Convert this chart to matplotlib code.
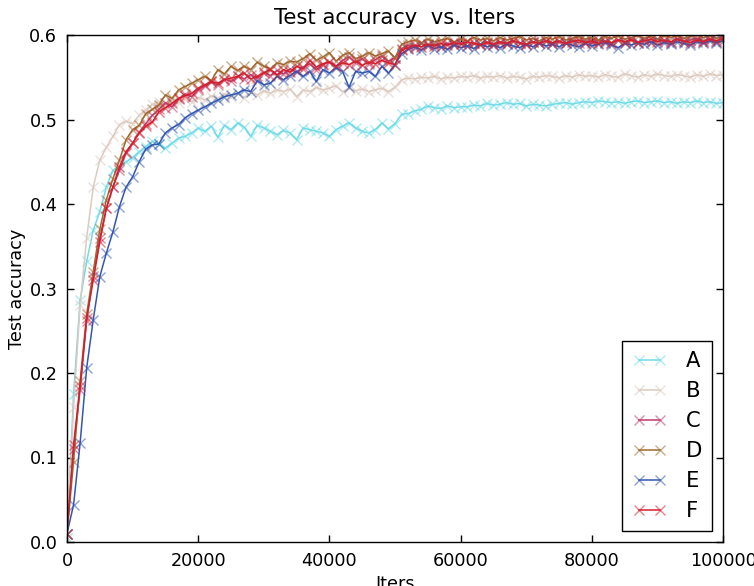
import numpy as np
import matplotlib
matplotlib.use('Agg')
import matplotlib.pyplot as plt
from matplotlib.colors import to_rgba

# test accuracy logged every 1000 iterations
iters = np.arange(0, 100001, 1000)

acc_a = [0.005, 0.175, 0.286, 0.332, 0.369, 0.391, 0.420, 0.440, 0.444, 0.450,
         0.455, 0.462, 0.468, 0.474, 0.471, 0.466, 0.472, 0.478, 0.480, 0.484,
         0.490, 0.486, 0.492, 0.479, 0.493, 0.488, 0.496, 0.491, 0.480, 0.493,
         0.490, 0.486, 0.482, 0.487, 0.484, 0.476, 0.490, 0.488, 0.486, 0.484,
         0.480, 0.488, 0.492, 0.496, 0.490, 0.486, 0.484, 0.488, 0.496, 0.489,
         0.495, 0.506, 0.507, 0.510, 0.512, 0.516, 0.514, 0.513, 0.516, 0.514,
         0.515, 0.515, 0.517, 0.516, 0.519, 0.517, 0.518, 0.520, 0.518, 0.519,
         0.516, 0.518, 0.517, 0.516, 0.518, 0.519, 0.520, 0.518, 0.520, 0.521,
         0.520, 0.522, 0.521, 0.520, 0.521, 0.519, 0.521, 0.522, 0.520, 0.521,
         0.522, 0.520, 0.521, 0.519, 0.521, 0.520, 0.522, 0.520, 0.521, 0.519,
         0.520]

acc_b = [0.005, 0.160, 0.280, 0.360, 0.420, 0.452, 0.467, 0.480, 0.494, 0.498,
         0.495, 0.505, 0.511, 0.518, 0.521, 0.517, 0.522, 0.520, 0.524, 0.521,
         0.526, 0.523, 0.528, 0.525, 0.530, 0.527, 0.531, 0.526, 0.532, 0.529,
         0.534, 0.531, 0.535, 0.533, 0.536, 0.527, 0.535, 0.533, 0.538, 0.535,
         0.537, 0.540, 0.533, 0.537, 0.534, 0.536, 0.533, 0.535, 0.537, 0.533,
         0.538, 0.547, 0.549, 0.548, 0.550, 0.549, 0.551, 0.548, 0.550, 0.549,
         0.551, 0.550, 0.552, 0.549, 0.551, 0.550, 0.552, 0.549, 0.551, 0.550,
         0.548, 0.551, 0.550, 0.552, 0.551, 0.549, 0.552, 0.550, 0.553, 0.551,
         0.552, 0.550, 0.553, 0.551, 0.550, 0.554, 0.552, 0.550, 0.553, 0.551,
         0.554, 0.552, 0.551, 0.553, 0.552, 0.550, 0.553, 0.551, 0.554, 0.552,
         0.553]

acc_c = [0.010, 0.110, 0.180, 0.262, 0.315, 0.360, 0.395, 0.420, 0.440, 0.460,
         0.472, 0.485, 0.495, 0.505, 0.512, 0.520, 0.515, 0.524, 0.530, 0.527,
         0.535, 0.540, 0.544, 0.541, 0.548, 0.545, 0.551, 0.548, 0.553, 0.549,
         0.556, 0.552, 0.558, 0.554, 0.560, 0.556, 0.562, 0.566, 0.559, 0.565,
         0.568, 0.563, 0.570, 0.574, 0.567, 0.572, 0.566, 0.571, 0.575, 0.569,
         0.573, 0.584, 0.588, 0.585, 0.590, 0.587, 0.589, 0.586, 0.590, 0.588,
         0.591, 0.587, 0.590, 0.589, 0.592, 0.588, 0.591, 0.589, 0.593, 0.590,
         0.588, 0.592, 0.590, 0.593, 0.589, 0.592, 0.590, 0.594, 0.591, 0.593,
         0.590, 0.594, 0.592, 0.590, 0.594, 0.591, 0.595, 0.592, 0.594, 0.591,
         0.595, 0.593, 0.591, 0.595, 0.592, 0.594, 0.596, 0.593, 0.595, 0.592,
         0.596]

acc_d = [0.010, 0.095, 0.190, 0.270, 0.320, 0.370, 0.405, 0.430, 0.452, 0.476,
         0.488, 0.493, 0.507, 0.512, 0.517, 0.529, 0.525, 0.535, 0.539, 0.543,
         0.547, 0.551, 0.546, 0.559, 0.554, 0.563, 0.558, 0.563, 0.559, 0.568,
         0.563, 0.560, 0.567, 0.565, 0.569, 0.568, 0.572, 0.578, 0.570, 0.574,
         0.579, 0.569, 0.576, 0.579, 0.572, 0.575, 0.579, 0.575, 0.578, 0.581,
         0.573, 0.589, 0.592, 0.594, 0.591, 0.595, 0.592, 0.594, 0.596, 0.592,
         0.595, 0.593, 0.597, 0.594, 0.596, 0.593, 0.597, 0.594, 0.596, 0.598,
         0.594, 0.596, 0.593, 0.597, 0.595, 0.598, 0.594, 0.596, 0.598, 0.595,
         0.597, 0.594, 0.598, 0.596, 0.599, 0.595, 0.597, 0.599, 0.596, 0.598,
         0.595, 0.599, 0.597, 0.599, 0.596, 0.598, 0.600, 0.597, 0.599, 0.596,
         0.598]

acc_e = [0.010, 0.044, 0.117, 0.206, 0.263, 0.314, 0.342, 0.367, 0.397, 0.420,
         0.432, 0.450, 0.465, 0.470, 0.471, 0.484, 0.490, 0.494, 0.502, 0.507,
         0.511, 0.515, 0.519, 0.523, 0.527, 0.529, 0.531, 0.535, 0.533, 0.546,
         0.541, 0.543, 0.551, 0.547, 0.552, 0.557, 0.551, 0.557, 0.545, 0.559,
         0.555, 0.561, 0.557, 0.538, 0.557, 0.555, 0.557, 0.551, 0.563, 0.555,
         0.565, 0.578, 0.583, 0.586, 0.582, 0.588, 0.584, 0.586, 0.583, 0.588,
         0.585, 0.587, 0.584, 0.589, 0.586, 0.588, 0.585, 0.589, 0.587, 0.585,
         0.589, 0.586, 0.590, 0.587, 0.589, 0.586, 0.590, 0.588, 0.586, 0.590,
         0.587, 0.589, 0.591, 0.588, 0.585, 0.590, 0.588, 0.591, 0.589, 0.592,
         0.588, 0.591, 0.589, 0.592, 0.590, 0.588, 0.592, 0.590, 0.593, 0.591,
         0.593]

acc_f = [0.010, 0.115, 0.185, 0.265, 0.310, 0.355, 0.395, 0.420, 0.444, 0.462,
         0.472, 0.484, 0.492, 0.497, 0.509, 0.514, 0.519, 0.525, 0.528, 0.531,
         0.537, 0.541, 0.545, 0.543, 0.547, 0.549, 0.551, 0.555, 0.548, 0.551,
         0.555, 0.559, 0.553, 0.559, 0.556, 0.563, 0.560, 0.570, 0.562, 0.566,
         0.568, 0.563, 0.567, 0.565, 0.569, 0.564, 0.568, 0.566, 0.570, 0.567,
         0.565, 0.582, 0.585, 0.588, 0.586, 0.589, 0.587, 0.590, 0.588, 0.591,
         0.589, 0.592, 0.590, 0.588, 0.591, 0.589, 0.592, 0.590, 0.593, 0.591,
         0.589, 0.592, 0.590, 0.593, 0.591, 0.593, 0.590, 0.592, 0.594, 0.591,
         0.593, 0.590, 0.593, 0.591, 0.594, 0.592, 0.594, 0.591, 0.593, 0.595,
         0.592, 0.594, 0.592, 0.595, 0.593, 0.591, 0.594, 0.592, 0.595, 0.593,
         0.596]

labels = ['A', 'B', 'C', 'D', 'E', 'F']
series = [acc_a, acc_b, acc_c, acc_d, acc_e, acc_f]
colors = ['#6fdbe8', '#dccabf', '#c03a68', '#a0682e', '#3157b0', '#d41e2e']

fig = plt.figure(figsize=(7.54, 5.86), dpi=100)
ax = fig.add_axes([67 / 754, 44 / 586, 656 / 754, 507 / 586])

for lab, ys, c in zip(labels, series, colors):
    ax.plot(iters, ys, color=c, linewidth=1.1, marker='x', markersize=7,
            markeredgewidth=1.0, markeredgecolor=to_rgba(c, 0.55), label=lab)

ax.set_xlim(0, 100000)
ax.set_ylim(0.0, 0.6)
ax.set_xticks(np.arange(0, 100001, 20000))
ax.set_yticks(np.arange(0, 0.61, 0.1))
ax.set_yticklabels([f'{v:.1f}' for v in np.arange(0, 0.61, 0.1)])
ax.tick_params(direction='in', top=True, right=True, length=5, width=1,
               labelsize=12.7, pad=7)
for sp in ax.spines.values():
    sp.set_linewidth(1.0)

ax.set_title('Test accuracy  vs. Iters', fontsize=15.2, pad=8)
ax.set_xlabel('Iters', fontsize=12.7)
ax.set_ylabel('Test accuracy', fontsize=12.7, labelpad=2)

leg = ax.legend(loc='lower right', numpoints=2, fontsize=15.2, fancybox=False,
                framealpha=1, edgecolor='black', handlelength=1.6,
                labelspacing=0.47, borderpad=0.5, handletextpad=0.9)
leg.get_frame().set_linewidth(1.0)

plt.savefig('out.png', dpi=100)
plt.close()
